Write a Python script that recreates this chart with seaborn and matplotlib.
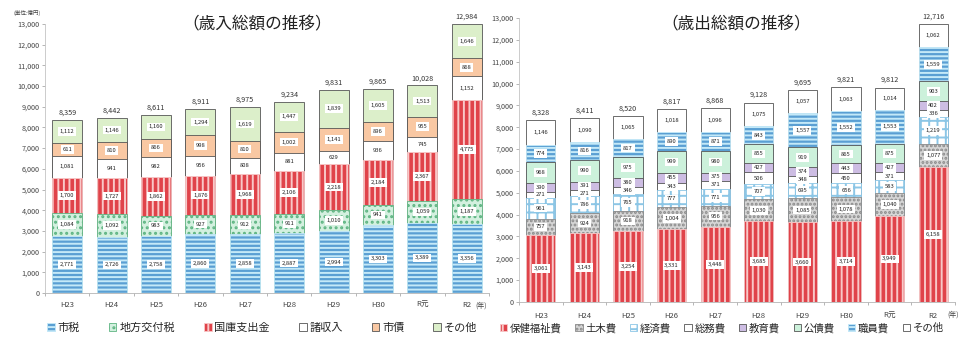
import matplotlib
matplotlib.use("Agg")
import matplotlib.pyplot as plt
from matplotlib.patches import Patch
import seaborn as sns
import numpy as np

# ---------------- data ----------------
years = ['H23', 'H24', 'H25', 'H26', 'H27', 'H28', 'H29', 'H30', 'R元', 'R2']

# 歳入 (単位:億円)
rev_names = ['市税', '地方交付税', '国庫支出金', '諸収入', '市債', 'その他']
rev_shizei = [2771, 2726, 2758, 2860, 2858, 2887, 2994, 3303, 3389, 3356]
rev_koufuzei = [1084, 1092, 983, 927, 912, 911, 1010, 941, 1059, 1187]
rev_kokko = [1700, 1727, 1862, 1876, 1968, 2106, 2218, 2184, 2367, 4775]
rev_shoshuunyu = [1081, 941, 982, 956, 808, 881, 629, 936, 745, 1152]
rev_shisai = [611, 810, 866, 998, 810, 1002, 1141, 896, 955, 868]
rev_sonota = [1112, 1146, 1160, 1294, 1619, 1447, 1839, 1605, 1513, 1646]
rev_total = [8359, 8442, 8611, 8911, 8975, 9234, 9831, 9865, 10028, 12984]

# 歳出 (単位:億円)
exp_names = ['保健福祉費', '土木費', '経済費', '総務費', '教育費', '公債費', '職員費', 'その他']
exp_hoken = [3061, 3143, 3254, 3331, 3448, 3685, 3660, 3714, 3949, 6158]
exp_doboku = [757, 924, 918, 1004, 956, 1030, 1085, 1078, 1040, 1077]
exp_keizai = [961, 786, 765, 777, 771, 707, 695, 656, 583, 1219]
exp_soumu = [271, 271, 346, 343, 371, 506, 348, 450, 371, 336]
exp_kyouiku = [390, 391, 380, 455, 375, 427, 374, 443, 427, 402]
exp_kousai = [968, 990, 975, 999, 980, 855, 919, 865, 875, 903]
exp_shokuin = [774, 816, 817, 890, 871, 843, 1557, 1552, 1553, 1559]
exp_sonota = [1146, 1090, 1065, 1018, 1096, 1075, 1057, 1063, 1014, 1062]
exp_total = [8328, 8411, 8520, 8817, 8868, 9128, 9695, 9821, 9812, 12716]

y_ticks = list(range(0, 13001, 1000))

# ---------------- styles ----------------
# face colour, hatch pattern, hatch colour, outline colour
BLUE = dict(face='#5a9fd3', hatch='----', hc='#c4e9f8', edge='#2f6fa3')
RED = dict(face='#e0434a', hatch='|||', hc='#f8c8c8', edge='#b02a31')
GDOT = dict(face='#d3f0df', hatch='...', hc='#5fb583', edge='#4f9a6d')
PLAIN_W = dict(face='#ffffff', hatch=None, hc=None, edge='#555555')
ORANGE = dict(face='#f9c8a3', hatch=None, hc=None, edge='#555555')
LGREEN = dict(face='#dcefca', hatch=None, hc=None, edge='#555555')
GRAYDOT = dict(face='#d6d6d6', hatch='....', hc='#8a8a8a', edge='#777777')
GRID = dict(face='#ffffff', hatch='++', hc='#8cc6e6', edge='#6aa6cc')
LAV = dict(face='#cdbde3', hatch=None, hc=None, edge='#555555')
MINT = dict(face='#ccf1db', hatch=None, hc=None, edge='#555555')

rev_styles = [BLUE, GDOT, RED, PLAIN_W, ORANGE, LGREEN]
exp_styles = [RED, GRAYDOT, GRID, PLAIN_W, LAV, MINT, BLUE, PLAIN_W]

sns.set_theme(style="white")
plt.rcParams['font.family'] = ['Noto Sans CJK JP', 'DejaVu Sans']
plt.rcParams['hatch.linewidth'] = 1.4
plt.rcParams['axes.unicode_minus'] = False

W, H = 959, 337
fig = plt.figure(figsize=(W / 100, H / 100), dpi=100)


def fx(px):
    return px / W


def fy(py):
    return 1 - py / H


ax1 = fig.add_axes([fx(45), fy(293), 444 / W, (293 - 24) / H])
ax2 = fig.add_axes([fx(519), fy(302), 436 / W, (302 - 18) / H])


def apply_style(p, st):
    # hatch colour follows the edge colour unless a separate hatch colour is supported
    if st['hatch'] and hasattr(p, 'set_hatchcolor'):
        p.set_edgecolor(st['edge'])
        p.set_hatchcolor(st['hc'])


def draw_stack(ax, layers, styles, totals, width):
    arr = np.array(layers, dtype=float)
    cums = np.cumsum(arr, axis=0)
    for k in range(len(layers) - 1, -1, -1):
        st = styles[k]
        before = len(ax.patches)
        sns.barplot(x=years, y=cums[k], color=st['face'], saturation=1,
                    width=width, errorbar=None, ax=ax, hatch=st['hatch'],
                    edgecolor=st['hc'] if st['hatch'] else st['edge'], linewidth=0.6)
        for p in ax.patches[before:]:
            apply_style(p, st)
    for k, vals in enumerate(layers):
        bottoms = cums[k] - arr[k]
        for i, v in enumerate(vals):
            ax.text(i, bottoms[i] + v / 2, f"{v:,}", ha='center', va='center',
                    fontsize=4.2, color='#222222',
                    bbox=dict(boxstyle='square,pad=0.3', fc='white', ec='none'))
    for i, t in enumerate(totals):
        ax.text(i, t + 160, f"{t:,}", ha='center', va='bottom', fontsize=5.2,
                color='#333333', clip_on=False)


def style_axes(ax, pad):
    ax.set_xlim(-0.5, len(years) - 0.5)
    ax.set_ylim(0, 13000)
    ax.set_yticks(y_ticks)
    ax.set_yticklabels([f"{v:,}" for v in y_ticks], fontsize=5.2, color='#444444')
    ax.set_xticks(range(len(years)))
    ax.set_xticklabels(years, fontsize=5.5, color='#444444')
    ax.set_xticks(np.arange(-0.5, len(years), 1.0), minor=True)
    ax.tick_params(axis='x', which='major', length=0, pad=pad)
    ax.tick_params(axis='x', which='minor', bottom=True, length=2.5, width=0.5, color='#999999')
    ax.tick_params(axis='y', left=True, length=2, width=0.5, color='#999999', pad=2)
    for s in ['top', 'right']:
        ax.spines[s].set_visible(False)
    ax.spines['left'].set_color('#c4c4c4')
    ax.spines['left'].set_linewidth(0.6)
    ax.spines['bottom'].set_color('#b4b4b4')
    ax.spines['bottom'].set_linewidth(0.6)
    ax.set_xlabel('')
    ax.set_ylabel('')
    ax.grid(False)


draw_stack(ax1, [rev_shizei, rev_koufuzei, rev_kokko, rev_shoshuunyu, rev_shisai, rev_sonota],
           rev_styles, rev_total, 0.68)
draw_stack(ax2, [exp_hoken, exp_doboku, exp_keizai, exp_soumu, exp_kyouiku, exp_kousai,
                 exp_shokuin, exp_sonota], exp_styles, exp_total, 0.67)
style_axes(ax1, 6)
style_axes(ax2, 7)

# titles and notes
fig.text(fx(257), fy(25), '（歳入総額の推移）', fontsize=12, ha='center', va='center', color='#222222')
fig.text(fx(736), fy(25), '（歳出総額の推移）', fontsize=12, ha='center', va='center', color='#222222')
fig.text(fx(27), fy(13), '(単位:億円)', fontsize=4, ha='center', va='center', color='#444444')
fig.text(fx(481), fy(306), '(年)', fontsize=5, ha='center', va='center', color='#444444')
fig.text(fx(953), fy(315), '(年)', fontsize=5, ha='center', va='center', color='#444444')


def handles(styles):
    hs = []
    for s in styles:
        p = Patch(facecolor=s['face'], edgecolor=s['hc'] if s['hatch'] else s['edge'],
                  hatch=s['hatch'], linewidth=0.6)
        apply_style(p, s)
        hs.append(p)
    return hs


fig.legend(handles(rev_styles), rev_names, loc='center left',
           bbox_to_anchor=(fx(47), fy(328)), ncol=6, frameon=False, fontsize=8,
           handlelength=0.7, handleheight=0.7, handletextpad=0.25,
           columnspacing=2.6, borderaxespad=0, borderpad=0)
fig.legend(handles(exp_styles), exp_names, loc='center left',
           bbox_to_anchor=(fx(500), fy(328)), ncol=8, frameon=False, fontsize=7.5,
           handlelength=0.7, handleheight=0.7, handletextpad=0.25,
           columnspacing=1.3, borderaxespad=0, borderpad=0)

fig.savefig('out.png', dpi=100)
